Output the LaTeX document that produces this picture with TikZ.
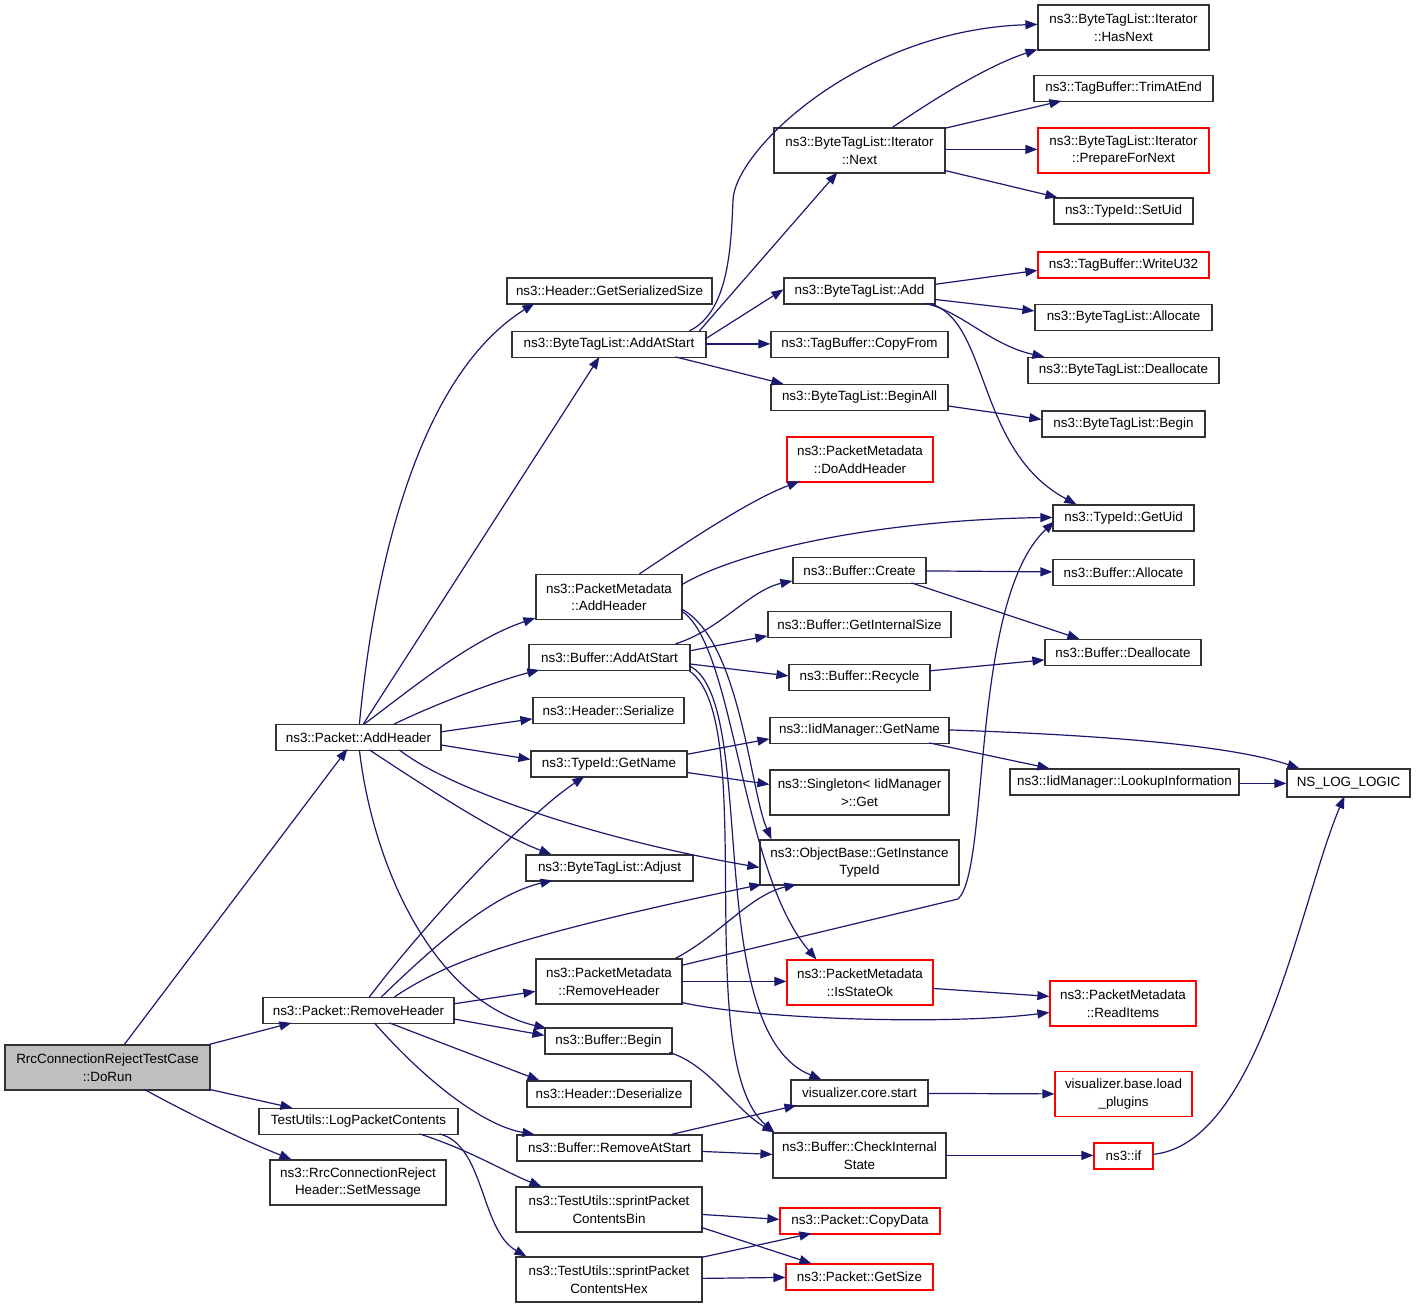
\documentclass[tikz,border=0pt]{standalone}
\usepackage{fontspec}
\setmainfont{Liberation Sans}
\usetikzlibrary{arrows.meta}
\definecolor{edgeblue}{HTML}{191970}
\definecolor{boxline}{HTML}{333333}
\definecolor{rootfill}{HTML}{BFBFBF}
\begin{document}
\begin{tikzpicture}[x=1pt,y=-1pt,
 box/.style={draw=boxline, line width=1.2pt, fill=white, inner sep=0pt, align=center, font=\fontsize{13.4}{17.5}\selectfont, minimum height=26pt},
 redbox/.style={box, draw=red},
 tall/.style={minimum height=45pt},
 edge/.style={draw=edgeblue, line width=1.2pt, -{Triangle[length=12pt,width=9pt]}},
]
\useasboundingbox (0,0) rectangle (1416,1308);
\fill[white] (0,0) rectangle (1416,1308);

% column 1
\node[box, tall, fill=rootfill, minimum width=205pt] (dorun) at (107.5,1067.5) {RrcConnectionRejectTestCase\\::DoRun};
% column 2
\node[box, minimum width=165pt] (addh) at (358.5,737.5) {ns3::Packet::AddHeader};
\node[box, minimum width=191pt] (remh) at (358.5,1010.5) {ns3::Packet::RemoveHeader};
\node[box, minimum width=199pt] (logpc) at (358.5,1121.5) {TestUtils::LogPacketContents};
\node[box, tall, minimum width=176pt] (setmsg) at (358,1182.5) {ns3::RrcConnectionReject\\Header::SetMessage};
% column 3
\node[box, minimum width=205pt] (gss) at (609.5,291) {ns3::Header::GetSerializedSize};
\node[box, minimum width=194pt] (btladd) at (609,344.5) {ns3::ByteTagList::AddAtStart};
\node[box, tall, minimum width=146pt] (pmadd) at (609,597) {ns3::PacketMetadata\\::AddHeader};
\node[box, minimum width=161pt] (bufadd) at (609.5,657.5) {ns3::Buffer::AddAtStart};
\node[box, minimum width=151pt] (hser) at (608.5,710.5) {ns3::Header::Serialize};
\node[box, minimum width=156pt] (tgn) at (609,764) {ns3::TypeId::GetName};
\node[box, minimum width=167pt] (btladj) at (609.5,868) {ns3::ByteTagList::Adjust};
\node[box, tall, minimum width=146pt] (pmrem) at (609,981.5) {ns3::PacketMetadata\\::RemoveHeader};
\node[box, minimum width=127pt] (bufbeg) at (608.5,1041) {ns3::Buffer::Begin};
\node[box, minimum width=164pt] (hdes) at (609,1094) {ns3::Header::Deserialize};
\node[box, minimum width=185pt] (bufrem) at (609.5,1148) {ns3::Buffer::RemoveAtStart};
\node[box, tall, minimum width=186pt] (sbin) at (609,1209.5) {ns3::TestUtils::sprintPacket\\ContentsBin};
\node[box, tall, minimum width=186pt] (shex) at (609,1279.5) {ns3::TestUtils::sprintPacket\\ContentsHex};
% column 4
\node[box, tall, minimum width=171pt] (itnext) at (859.5,150.5) {ns3::ByteTagList::Iterator\\::Next};
\node[box, minimum width=151pt] (btladd2) at (859.5,291) {ns3::ByteTagList::Add};
\node[box, minimum width=177pt] (copyfrom) at (859.5,344.5) {ns3::TagBuffer::CopyFrom};
\node[box, minimum width=177pt] (beginall) at (859.5,397.5) {ns3::ByteTagList::BeginAll};
\node[redbox, tall, minimum width=146pt] (doadd) at (860,459.5) {ns3::PacketMetadata\\::DoAddHeader};
\node[box, minimum width=133pt] (bcreate) at (859.5,570.5) {ns3::Buffer::Create};
\node[box, minimum width=183pt] (gis) at (859.5,624.5) {ns3::Buffer::GetInternalSize};
\node[box, minimum width=141pt] (recycle) at (859.5,677.5) {ns3::Buffer::Recycle};
\node[box, minimum width=179pt] (iidgn) at (859.5,730.5) {ns3::IidManager::GetName};
\node[box, tall, minimum width=179pt] (singleton) at (859.5,792.5) {ns3::Singleton< IidManager\\>::Get};
\node[box, tall, minimum width=199pt] (objbase) at (859.5,862.5) {ns3::ObjectBase::GetInstance\\TypeId};
\node[redbox, tall, minimum width=146pt] (isok) at (860,982.5) {ns3::PacketMetadata\\::IsStateOk};
\node[box, minimum width=137pt] (vizstart) at (859.5,1093) {visualizer.core.start};
\node[box, tall, minimum width=173pt] (cis) at (859.5,1155.5) {ns3::Buffer::CheckInternal\\State};
\node[redbox, minimum width=160pt] (copydata) at (860,1221) {ns3::Packet::CopyData};
\node[redbox, minimum width=147pt] (getsize) at (859.5,1277) {ns3::Packet::GetSize};
% column 5
\node[box, tall, minimum width=171pt] (hasnext) at (1123.5,27.5) {ns3::ByteTagList::Iterator\\::HasNext};
\node[box, minimum width=179pt] (trim) at (1123.5,88.5) {ns3::TagBuffer::TrimAtEnd};
\node[redbox, tall, minimum width=171pt] (prep) at (1123.5,150.5) {ns3::ByteTagList::Iterator\\::PrepareForNext};
\node[box, minimum width=139pt] (setuid) at (1123.5,211) {ns3::TypeId::SetUid};
\node[redbox, minimum width=171pt] (writeu32) at (1123.5,265) {ns3::TagBuffer::WriteU32};
\node[box, minimum width=177pt] (alloc) at (1123.5,317.5) {ns3::ByteTagList::Allocate};
\node[box, minimum width=191pt] (dealloc) at (1123.5,370.5) {ns3::ByteTagList::Deallocate};
\node[box, minimum width=163pt] (btlbegin) at (1123.5,424) {ns3::ByteTagList::Begin};
\node[box, minimum width=141pt] (getuid) at (1123.5,518) {ns3::TypeId::GetUid};
\node[box, minimum width=141pt] (balloc) at (1123.5,572.5) {ns3::Buffer::Allocate};
\node[box, minimum width=156pt] (bdealloc) at (1123,652.5) {ns3::Buffer::Deallocate};
\node[box, minimum width=229pt] (lookup) at (1124.5,782) {ns3::IidManager::LookupInformation};
\node[redbox, tall, minimum width=146pt] (readitems) at (1123,1003.5) {ns3::PacketMetadata\\::ReadItems};
\node[redbox, tall, minimum width=137pt] (loadplug) at (1123.5,1094) {visualizer.base.load\\\_plugins};
\node[redbox, minimum width=59pt] (nsif) at (1123.5,1156) {ns3::if};
% column 6
\node[box, minimum width=123pt, minimum height=28pt] (nslog) at (1348.5,783) {NS\_LOG\_LOGIC};

% ---- edges from DoRun
\draw[edge] ([shift={(120,0)}]dorun.north west) -- ([shift={(72,25)}]addh.north west);
\draw[edge] ([shift={(205,0)}]dorun.north west) -- ([shift={(29,26)}]remh.north west);
\draw[edge] ([shift={(205,45)}]dorun.north west) -- ([shift={(34,0)}]logpc.north west);
\draw[edge] ([shift={(140,45)}]dorun.north west) .. controls (200,1120) and (255,1145) .. ([shift={(22,0)}]setmsg.north west);

% ---- edges from Packet::AddHeader
\draw[edge] ([shift={(84,0)}]addh.north west) .. controls (375,560) and (420,375) .. ([shift={(28,26)}]gss.north west);
\draw[edge] ([shift={(88,0)}]addh.north west) -- ([shift={(88,26)}]btladd.north west);
\draw[edge] ([shift={(89,0)}]addh.north west) .. controls (410,690) and (470,640) .. ([shift={(0,44)}]pmadd.north west);
\draw[edge] ([shift={(119,0)}]addh.north west) .. controls (440,702) and (500,680) .. ([shift={(11,26)}]bufadd.north west);
\draw[edge] ([shift={(165,8)}]addh.north west) -- ([shift={(0,22)}]hser.north west);
\draw[edge] ([shift={(165,21)}]addh.north west) -- ([shift={(0,9)}]tgn.north west);
\draw[edge] ([shift={(124,26)}]addh.north west) .. controls (450,790) and (600,840) .. ([shift={(0,28)}]objbase.north west);
\draw[edge] ([shift={(94,26)}]addh.north west) .. controls (430,790) and (500,835) .. ([shift={(26,0)}]btladj.north west);
\draw[edge] ([shift={(84,26)}]addh.north west) .. controls (372,860) and (430,1000) .. ([shift={(2,1)}]bufbeg.north west);

% ---- edges from Packet::RemoveHeader
\draw[edge] ([shift={(107,0)}]remh.north west) .. controls (420,930) and (520,820) .. ([shift={(54,26)}]tgn.north west);
\draw[edge] ([shift={(119,0)}]remh.north west) .. controls (430,950) and (490,895) .. ([shift={(27,26)}]btladj.north west);
\draw[edge] ([shift={(132,0)}]remh.north west) .. controls (450,960) and (520,935) .. ([shift={(2,45)}]objbase.north west);
\draw[edge] ([shift={(191,7)}]remh.north west) -- ([shift={(0,33)}]pmrem.north west);
\draw[edge] ([shift={(191,22)}]remh.north west) -- ([shift={(0,8)}]bufbeg.north west);
\draw[edge] ([shift={(127,26)}]remh.north west) -- ([shift={(13,0)}]hdes.north west);
\draw[edge] ([shift={(112,26)}]remh.north west) .. controls (420,1075) and (480,1125) .. ([shift={(18,0)}]bufrem.north west);

% ---- edges from LogPacketContents
\draw[edge] ([shift={(161,26)}]logpc.north west) .. controls (470,1150) and (505,1172) .. ([shift={(26,0)}]sbin.north west);
\draw[edge] ([shift={(181,26)}]logpc.north west) .. controls (485,1145) and (480,1230) .. ([shift={(11,0)}]shex.north west);

% ---- edges from ByteTagList::AddAtStart
\draw[edge] ([shift={(178,0)}]btladd.north west) .. controls (728,312) and (731,250) .. (733,200) .. controls (735,150) and (860,30) .. ([shift={(0,20)}]hasnext.north west);
\draw[edge] ([shift={(188,0)}]btladd.north west) -- ([shift={(64,45)}]itnext.north west);
\draw[edge] ([shift={(194,8)}]btladd.north west) -- ([shift={(0,12)}]btladd2.north west);
\draw[edge] ([shift={(194,13)}]btladd.north west) -- ([shift={(0,13)}]copyfrom.north west);
\draw[edge] ([shift={(164,26)}]btladd.north west) -- ([shift={(13,0)}]beginall.north west);

% ---- edges from Iterator::Next
\draw[edge] ([shift={(119,0)}]itnext.north west) .. controls (940,95) and (990,65) .. ([shift={(0,45)}]hasnext.north west);
\draw[edge] ([shift={(171,1)}]itnext.north west) -- ([shift={(28,26)}]trim.north west);
\draw[edge] ([shift={(171,22)}]itnext.north west) -- ([shift={(0,22)}]prep.north west);
\draw[edge] ([shift={(171,43)}]itnext.north west) -- ([shift={(4,0)}]setuid.north west);

% ---- edges from ByteTagList::Add
\draw[edge] ([shift={(151,7)}]btladd2.north west) -- ([shift={(0,19)}]writeu32.north west);
\draw[edge] ([shift={(151,22)}]btladd2.north west) -- ([shift={(0,7)}]alloc.north west);
\draw[edge] ([shift={(141,26)}]btladd2.north west) .. controls (960,310) and (990,345) .. ([shift={(17,0)}]dealloc.north west);
\draw[edge] ([shift={(146,26)}]btladd2.north west) .. controls (990,320) and (975,450) .. ([shift={(24,0)}]getuid.north west);

\draw[edge] ([shift={(177,22)}]beginall.north west) -- ([shift={(0,9)}]btlbegin.north west);

% ---- edges from PacketMetadata::AddHeader
\draw[edge] ([shift={(104,0)}]pmadd.north west) .. controls (690,540) and (750,500) .. ([shift={(13,45)}]doadd.north west);
\draw[edge] ([shift={(146,11)}]pmadd.north west) .. controls (740,550) and (880,520) .. ([shift={(0,13)}]getuid.north west);
\draw[edge] ([shift={(146,35)}]pmadd.north west) .. controls (740,640) and (750,790) .. ([shift={(12,0)}]objbase.north west);
\draw[edge] ([shift={(146,37)}]pmadd.north west) .. controls (735,645) and (740,870) .. ([shift={(30,0)}]isok.north west);

% ---- edges from Buffer::AddAtStart
\draw[edge] ([shift={(147,0)}]bufadd.north west) .. controls (720,630) and (750,590) .. ([shift={(0,24)}]bcreate.north west);
\draw[edge] ([shift={(161,7)}]bufadd.north west) -- ([shift={(0,25)}]gis.north west);
\draw[edge] ([shift={(161,20)}]bufadd.north west) -- ([shift={(0,12)}]recycle.north west);
\draw[edge] ([shift={(161,22)}]bufadd.north west) .. controls (760,700) and (700,1030) .. ([shift={(31,0)}]vizstart.north west);
\draw[edge] ([shift={(161,27)}]bufadd.north west) .. controls (760,720) and (690,1060) .. ([shift={(2,0)}]cis.north west);

\draw[edge] ([shift={(133,14)}]bcreate.north west) -- ([shift={(0,13)}]balloc.north west);
\draw[edge] ([shift={(119,26)}]bcreate.north west) -- ([shift={(35,0)}]bdealloc.north west);
\draw[edge] ([shift={(141,7)}]recycle.north west) -- ([shift={(0,21)}]bdealloc.north west);

% ---- edges from TypeId::GetName
\draw[edge] ([shift={(156,4)}]tgn.north west) -- ([shift={(0,22)}]iidgn.north west);
\draw[edge] ([shift={(156,22)}]tgn.north west) -- ([shift={(0,15)}]singleton.north west);
\draw[edge] ([shift={(179,13)}]iidgn.north west) .. controls (1100,735) and (1230,745) .. ([shift={(13,0)}]nslog.north west);
\draw[edge] ([shift={(160,26)}]iidgn.north west) -- ([shift={(40,0)}]lookup.north west);
\draw[edge] ([shift={(229,15)}]lookup.north west) -- ([shift={(0,15)}]nslog.north west);

% ---- edges from PacketMetadata::RemoveHeader
\draw[edge] ([shift={(140,0)}]pmrem.north west) .. controls (720,935) and (750,895) .. ([shift={(37,45)}]objbase.north west);
\draw[edge] ([shift={(146,7)}]pmrem.north west) -- (958,899) .. controls (990,870) and (970,600) .. ([shift={(2,17)}]getuid.north west);
\draw[edge] ([shift={(146,23)}]pmrem.north west) -- ([shift={(0,22)}]isok.north west);
\draw[edge] ([shift={(146,44)}]pmrem.north west) .. controls (760,1020) and (950,1025) .. ([shift={(0,32)}]readitems.north west);
\draw[edge] ([shift={(146,29)}]isok.north west) -- ([shift={(0,16)}]readitems.north west);

% ---- lower edges
\draw[edge] ([shift={(125,25)}]bufbeg.north west) .. controls (710,1065) and (735,1110) .. ([shift={(2,0)}]cis.north west);
\draw[edge] ([shift={(155,0)}]bufrem.north west) -- ([shift={(6,26)}]vizstart.north west);
\draw[edge] ([shift={(185,17)}]bufrem.north west) -- ([shift={(0,22)}]cis.north west);
\draw[edge] ([shift={(137,14)}]vizstart.north west) -- ([shift={(0,23)}]loadplug.north west);
\draw[edge] ([shift={(173,23)}]cis.north west) -- ([shift={(0,13)}]nsif.north west);
\draw[edge] ([shift={(59,12)}]nsif.north west) .. controls (1260,1145) and (1300,900) .. ([shift={(58,28)}]nslog.north west);
\draw[edge] ([shift={(186,28)}]sbin.north west) -- ([shift={(0,12)}]copydata.north west);
\draw[edge] ([shift={(186,41)}]sbin.north west) -- ([shift={(26,0)}]getsize.north west);
\draw[edge] ([shift={(186,1)}]shex.north west) -- ([shift={(32,26)}]copydata.north west);
\draw[edge] ([shift={(186,22)}]shex.north west) -- ([shift={(0,14)}]getsize.north west);
\end{tikzpicture}
\end{document}
